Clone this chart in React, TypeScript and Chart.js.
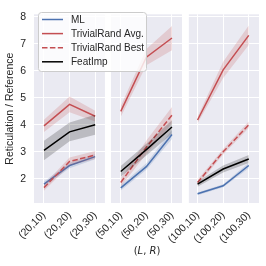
import React, { useEffect, useRef } from "react";
import { Chart, registerables } from "chart.js";

Chart.register(...registerables);

const categories = ["(20,10)", "(20,20)", "(20,30)", "(50,10)", "(50,20)", "(50,30)", "(100,10)", "(100,20)", "(100,30)"];
const yTicks = [2, 3, 4, 5, 6, 7, 8];
const seriesNames = ["ML", "TrivialRand Avg.", "TrivialRand Best", "FeatImp"];

const mlMean = [1.80, 2.49, 2.82, 1.66, 2.45, 3.64, 1.44, 1.74, 2.49];
const mlErr = [0.10, 0.10, 0.10, 0.10, 0.12, 0.17, 0.05, 0.06, 0.10];
const avgMean = [3.96, 4.76, 4.32, 4.50, 6.51, 7.22, 4.18, 6.04, 7.32];
const avgErr = [0.23, 0.29, 0.20, 0.20, 0.30, 0.45, 0.12, 0.30, 0.36];
const bestMean = [1.67, 2.64, 2.88, 1.86, 3.17, 4.36, 1.86, 3.00, 4.00];
const bestErr = [0.12, 0.15, 0.15, 0.15, 0.25, 0.30, 0.10, 0.10, 0.12];
const featMean = [3.05, 3.74, 4.00, 2.27, 3.08, 3.92, 1.80, 2.36, 2.73];
const featErr = [0.36, 0.35, 0.37, 0.20, 0.22, 0.25, 0.10, 0.13, 0.15];

const FONT = "'Liberation Sans', Arial, sans-serif";
const TEXT = "#262626";

export default function App() {
  const ref = useRef<HTMLCanvasElement>(null);

  useEffect(() => {
    const series = [
      { label: seriesNames[0], mean: mlMean, err: mlErr, color: "#4c72b0", band: "rgba(76,114,176,0.2)", dash: [] as number[] },
      { label: seriesNames[1], mean: avgMean, err: avgErr, color: "#c44e52", band: "rgba(196,78,82,0.2)", dash: [] as number[] },
      { label: seriesNames[2], mean: bestMean, err: bestErr, color: "#c44e52", band: "rgba(196,78,82,0.2)", dash: [5.5, 2.4] },
      { label: seriesNames[3], mean: featMean, err: featErr, color: "#000000", band: "rgba(0,0,0,0.2)", dash: [] as number[] },
    ];
    const panels = [[-0.39, 2.38], [2.62, 5.39], [5.66, 8.4]];

    const datasets: any[] = [];
    series.forEach((s, k) => {
      for (let p = 0; p < 3; p++) {
        const idx = [0, 1, 2].map((i) => 3 * p + i);
        datasets.push({
          label: s.label + " upper",
          data: idx.map((i) => ({ x: i, y: s.mean[i] + s.err[i] })),
          borderColor: "rgba(0,0,0,0)",
          borderWidth: 0,
          pointRadius: 0,
          backgroundColor: s.band,
          fill: "+1",
          order: 100 - 2 * k,
        });
        datasets.push({
          label: s.label + " lower",
          data: idx.map((i) => ({ x: i, y: s.mean[i] - s.err[i] })),
          borderColor: "rgba(0,0,0,0)",
          borderWidth: 0,
          pointRadius: 0,
          fill: false,
          order: 100 - 2 * k,
        });
        datasets.push({
          label: s.label,
          data: idx.map((i) => ({ x: i, y: s.mean[i] })),
          borderColor: s.color,
          borderWidth: 1.5,
          borderDash: s.dash,
          pointRadius: 0,
          fill: false,
          order: 99 - 2 * k,
        });
      }
    });

    const bgPlugin = {
      id: "panelBg",
      beforeDraw(chart: any) {
        const { ctx, chartArea } = chart;
        const xs = chart.scales.x;
        ctx.save();
        ctx.fillStyle = "#eaeaf2";
        panels.forEach(([a, b]) => {
          const x0 = xs.getPixelForValue(a);
          const x1 = xs.getPixelForValue(b);
          ctx.fillRect(x0, chartArea.top, x1 - x0, chartArea.bottom - chartArea.top);
        });
        ctx.restore();
      },
    };

    const legendPlugin = {
      id: "customLegend",
      afterDraw(chart: any) {
        const ctx = chart.ctx;
        ctx.save();
        const bx = 38.5, by = 12.5, bw = 108, bh = 59, r = 3;
        ctx.beginPath();
        ctx.moveTo(bx + r, by);
        ctx.lineTo(bx + bw - r, by);
        ctx.arcTo(bx + bw, by, bx + bw, by + r, r);
        ctx.lineTo(bx + bw, by + bh - r);
        ctx.arcTo(bx + bw, by + bh, bx + bw - r, by + bh, r);
        ctx.lineTo(bx + r, by + bh);
        ctx.arcTo(bx, by + bh, bx, by + bh - r, r);
        ctx.lineTo(bx, by + r);
        ctx.arcTo(bx, by, bx + r, by, r);
        ctx.closePath();
        ctx.fillStyle = "rgba(255,255,255,0.8)";
        ctx.fill();
        ctx.strokeStyle = "#cccccc";
        ctx.lineWidth = 1;
        ctx.stroke();
        series.forEach((s, i) => {
          const y = 19.5 + i * 14.1;
          ctx.beginPath();
          ctx.setLineDash(s.dash);
          ctx.strokeStyle = s.color;
          ctx.lineWidth = 1.5;
          ctx.moveTo(42, y);
          ctx.lineTo(63, y);
          ctx.stroke();
          ctx.setLineDash([]);
          ctx.fillStyle = TEXT;
          ctx.font = `10px ${FONT}`;
          ctx.textBaseline = "middle";
          ctx.textAlign = "left";
          ctx.fillText(s.label, 71, y + 0.5);
        });
        ctx.restore();
      },
    };

    const chart = new Chart(ref.current as HTMLCanvasElement, {
      type: "line",
      data: { datasets },
      plugins: [bgPlugin, legendPlugin],
      options: {
        animation: false,
        responsive: false,
        maintainAspectRatio: false,
        layout: { padding: { top: 7, right: 7, left: 0, bottom: 0 } },
        plugins: { legend: { display: false }, tooltip: { enabled: false } },
        scales: {
          x: {
            type: "linear",
            min: -0.39,
            max: 8.4,
            afterBuildTicks: (s: any) => {
              s.ticks = categories.map((_, i) => ({ value: i }));
            },
            afterFit: (s: any) => {
              s.height = 63;
            },
            ticks: {
              autoSkip: false,
              minRotation: 45,
              maxRotation: 45,
              padding: 6,
              color: TEXT,
              font: { family: FONT, size: 10.5 },
              callback: (v: any) => categories[v],
            },
            grid: { color: "#ffffff", lineWidth: 1, drawTicks: false },
            border: { display: false },
          },
          y: {
            min: 1.1,
            max: 8.1,
            afterBuildTicks: (s: any) => {
              s.ticks = yTicks.map((v) => ({ value: v }));
            },
            afterFit: (s: any) => {
              s.width = 34;
            },
            ticks: {
              padding: 8,
              color: TEXT,
              font: { family: FONT, size: 10.5 },
              callback: (v: any) => String(v),
            },
            grid: { color: "#ffffff", lineWidth: 1, drawTicks: false },
            border: { display: false },
            title: {
              display: true,
              text: "Reticulation / Reference",
              color: TEXT,
              font: { family: FONT, size: 10.5 },
              padding: { top: 4, bottom: 4 },
            },
          },
        },
      },
    } as any);
    return () => chart.destroy();
  }, []);

  return (
    <div style={{ position: "fixed", left: 0, top: 0, width: 266, height: 266, background: "#fff" }}>
      <canvas ref={ref} width={266} height={266} style={{ width: 266, height: 266, display: "block" }} />
      <div
        style={{
          position: "absolute",
          left: 0,
          width: 294,
          top: 245,
          textAlign: "center",
          fontFamily: "'DejaVu Sans', sans-serif",
          fontSize: 10,
          color: TEXT,
          lineHeight: "12px",
        }}
      >
        (<i>L</i>, <i>R</i>)
      </div>
    </div>
  );
}
